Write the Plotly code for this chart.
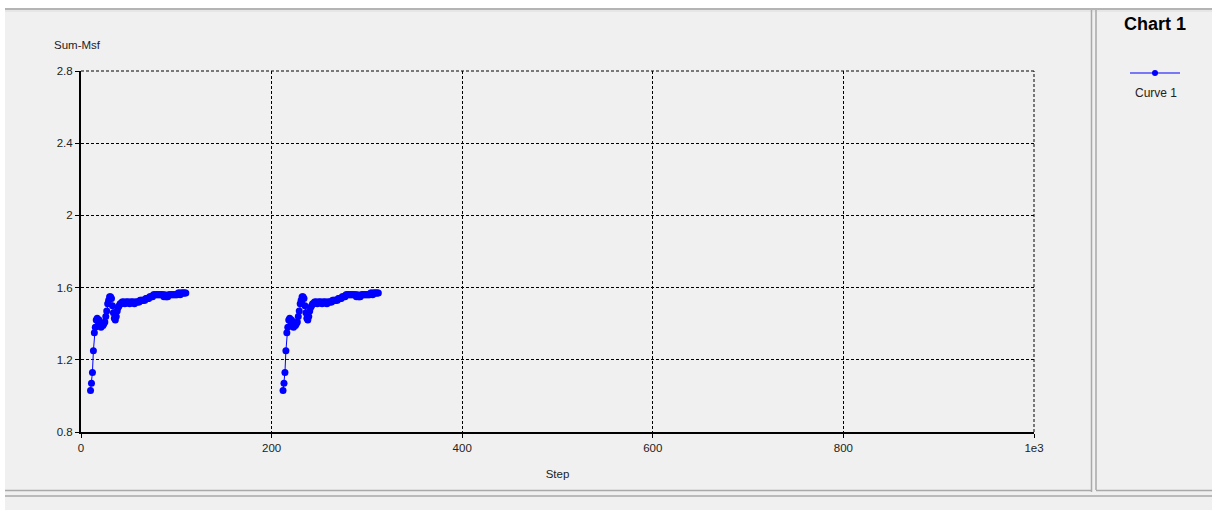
import plotly.graph_objects as go

# ---- data ----
steps_a = list(range(10, 111))
steps_b = list(range(212, 313))
sum_msf = [
    1.03, 1.07, 1.13, 1.25, 1.35, 1.38, 1.42, 1.43, 1.39, 1.42,
    1.40, 1.38, 1.40, 1.39, 1.40, 1.41, 1.44, 1.47, 1.51, 1.53,
    1.55, 1.55, 1.54, 1.50, 1.46, 1.43, 1.42, 1.44, 1.47, 1.49,
    1.50, 1.51, 1.51, 1.52, 1.52, 1.52, 1.51, 1.52, 1.52, 1.52,
    1.52, 1.51, 1.52, 1.52, 1.52, 1.52, 1.51, 1.52, 1.52, 1.52,
    1.52, 1.52, 1.53, 1.53, 1.53, 1.53, 1.53, 1.53, 1.54, 1.54,
    1.54, 1.54, 1.55, 1.55, 1.55, 1.55, 1.56, 1.56, 1.56, 1.56,
    1.56, 1.56, 1.56, 1.56, 1.56, 1.56, 1.56, 1.55, 1.56, 1.55,
    1.55, 1.55, 1.56, 1.56, 1.56, 1.56, 1.56, 1.56, 1.56, 1.56,
    1.56, 1.56, 1.57, 1.57, 1.56, 1.57, 1.57, 1.57, 1.57, 1.57,
    1.57,
]
x_ticks = [0, 200, 400, 600, 800, 1000]
x_tick_text = ["0", "200", "400", "600", "800", "1e3"]
y_ticks = [0.8, 1.2, 1.6, 2.0, 2.4, 2.8]
y_tick_text = ["0.8", "1.2", "1.6", "2", "2.4", "2.8"]

# ---- geometry helpers (pixel -> paper) ----
W, H = 1212, 510
L, R, T, B = 81, 1034, 71, 432
def px(x):
    return (x - L) / (R - L)
def py(y):
    return (B - y) / (B - T)

BLUE = "#0000ff"
FONT = "Liberation Sans, Arial, sans-serif"
DASH = "3px,2px"
SMALL = 11.5

fig = go.Figure()
fig.add_trace(go.Scatter(
    x=steps_a + [None] + steps_b,
    y=sum_msf + [None] + sum_msf,
    mode="lines+markers",
    name="Curve 1",
    line=dict(color=BLUE, width=1),
    marker=dict(color=BLUE, size=7),
    connectgaps=False,
    showlegend=False,
))

grid = dict(showgrid=True, gridcolor="black", gridwidth=1, griddash=DASH)
fig.update_xaxes(
    range=[0, 1000], tickvals=x_ticks, ticktext=x_tick_text,
    showline=True, linecolor="black", linewidth=2, mirror=False,
    ticks="outside", ticklen=4, tickcolor="black", tickwidth=1,
    zeroline=False, tickfont=dict(family=FONT, size=SMALL, color="#222"),
    title=dict(text="Step", font=dict(family=FONT, size=SMALL, color="#222"), standoff=17),
    **grid,
)
fig.update_yaxes(
    range=[0.8, 2.8], tickvals=y_ticks, ticktext=y_tick_text,
    showline=True, linecolor="black", linewidth=2, mirror=False,
    ticks="outside", ticklen=4, tickcolor="black", tickwidth=1,
    zeroline=False, tickfont=dict(family=FONT, size=SMALL, color="#222"),
    **grid,
)

shapes = []
# white strips (window chrome)
shapes.append(dict(type="rect", xref="paper", yref="paper", x0=px(0), x1=px(W), y0=py(0), y1=py(8),
                   fillcolor="white", line=dict(width=0), layer="below"))
shapes.append(dict(type="rect", xref="paper", yref="paper", x0=px(0), x1=px(5), y0=py(0), y1=py(H),
                   fillcolor="white", line=dict(width=0), layer="below"))
frame = "#a9a9a9"
def hline(y, x0, x1, c=frame, w=1, dash=None, layer="above"):
    shapes.append(dict(type="line", xref="paper", yref="paper", x0=px(x0), x1=px(x1), y0=py(y), y1=py(y),
                       line=dict(color=c, width=w, dash=dash), layer=layer))
def vline(x, y0, y1, c=frame, w=1, dash=None, layer="above"):
    shapes.append(dict(type="line", xref="paper", yref="paper", x0=px(x), x1=px(x), y0=py(y0), y1=py(y1),
                       line=dict(color=c, width=w, dash=dash), layer=layer))
# plot-frame dotted edges (top and right)
shapes.append(dict(type="line", xref="paper", yref="paper", x0=0, x1=1, y0=1, y1=1,
                   line=dict(color="black", width=1, dash=DASH), layer="below"))
shapes.append(dict(type="line", xref="paper", yref="paper", x0=1, x1=1, y0=0, y1=1,
                   line=dict(color="black", width=1, dash=DASH), layer="below"))
hline(9, 5, W, "#a0a0a0", 1.5)
hline(11, 5, W, "#dcdcdc", 1)
hline(490.5, 5, 1092, frame, 1.5)
hline(490.5, 1096, W, frame, 1.5)
hline(496, 5, W, frame, 1.5)
vline(1091.5, 10, 492, frame, 1.5)
vline(1096, 10, 490, frame, 1.5)
# legend glyph
hline(73, 1130, 1180, BLUE, 1)
shapes.append(dict(type="circle", xref="paper", yref="paper",
                   x0=px(1152), x1=px(1158), y0=py(70), y1=py(76),
                   fillcolor=BLUE, line=dict(color=BLUE, width=0)))

annotations = [
    dict(text="Sum-Msf", xref="paper", yref="paper", x=px(52), y=py(45), xanchor="left", yanchor="middle",
         showarrow=False, font=dict(family=FONT, size=SMALL, color="#222")),
    dict(text="<b>Chart 1</b>", xref="paper", yref="paper", x=px(1155), y=py(24), xanchor="center",
         yanchor="middle", showarrow=False, font=dict(family=FONT, size=18, color="black")),
    dict(text="Curve 1", xref="paper", yref="paper", x=px(1156), y=py(93), xanchor="center",
         yanchor="middle", showarrow=False, font=dict(family=FONT, size=12, color="#222")),
]

fig.update_layout(
    width=W, height=H, autosize=False,
    margin=dict(l=L, r=W - R, t=T, b=H - B, pad=0),
    paper_bgcolor="#f0f0f0", plot_bgcolor="#f0f0f0",
    shapes=shapes, annotations=annotations,
    showlegend=False,
)
fig.write_html(
    "out.html",
    config={"displayModeBar": False},
    post_script="document.body.style.margin='0';document.body.style.overflow='hidden';",
)
